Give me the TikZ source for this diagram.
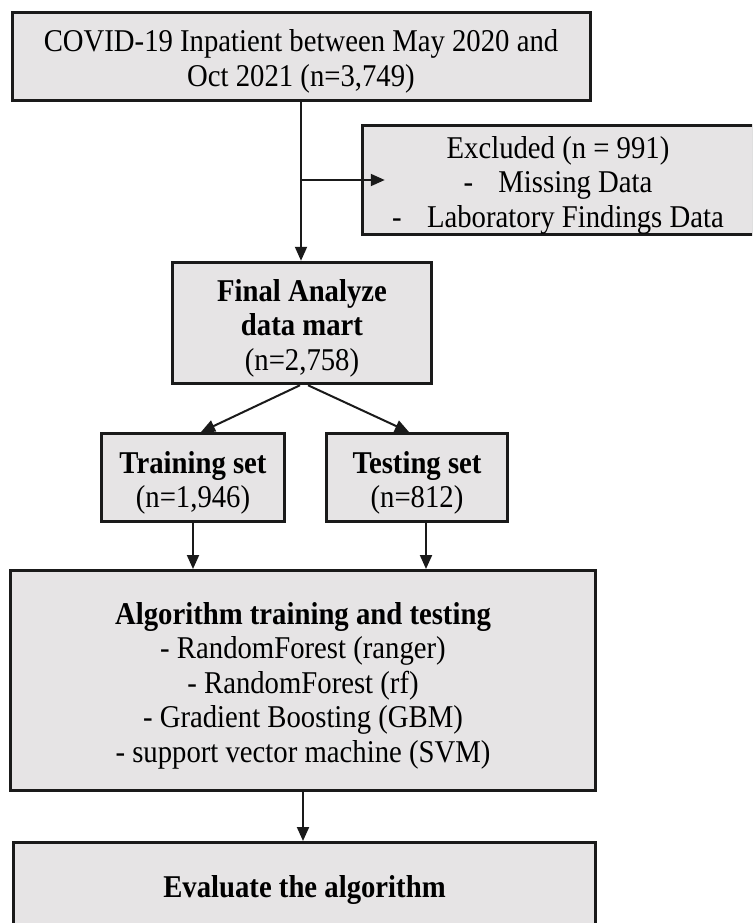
\documentclass[tikz,border=0pt]{standalone}
\usepackage{fontspec}
\setmainfont{Liberation Serif}[FakeStretch=0.906]
\usetikzlibrary{arrows.meta,calc}
\definecolor{boxfill}{RGB}{230,228,229}
\definecolor{ink}{RGB}{26,26,26}
% fixed first-line height and last-line depth so every box sets its lines alike
\newcommand{\fls}{\rule{0pt}{33pt}}
\newcommand{\lls}{\rule[-7.5pt]{0pt}{0pt}}
\begin{document}
\begin{tikzpicture}[x=1pt,y=-1pt,
  box/.style={draw=ink,fill=boxfill,line width=3pt,inner sep=0pt,align=center,
    font=\fontsize{31.7}{34.5}\selectfont},
  link/.style={draw=ink,line width=2pt,-{Triangle[length=14pt,width=12pt]}}]
\useasboundingbox (0,0) rectangle (752,923);
\clip (0,0) rectangle (752,923);

% boxes
\node[box,minimum width=578pt,minimum height=88pt] (src) at (301,56.5)
  {\fls COVID-19 Inpatient between May 2020 and\\Oct 2021 (n=3,749)\lls};
\node[box,minimum width=391.5pt,minimum height=103pt] (exc) at (558,180)
  {\fls Excluded (n = 991)\\-\hspace{0.8em}Missing Data\\-\hspace{0.8em}Laboratory Findings Data\lls};
\node[box,minimum width=258.5pt,minimum height=121.5pt] (fin) at (302,323)
  {\fls\textbf{Final Analyze}\\\textbf{data mart}\\(n=2,758)\lls};
\node[box,minimum width=183pt,minimum height=88pt] (trn) at (193,477.5)
  {\fls\textbf{Training set}\\(n=1,946)\lls};
\node[box,minimum width=181pt,minimum height=88pt] (tst) at (417,477.5)
  {\fls\textbf{Testing set}\\(n=812)\lls};
\node[box,minimum width=585.5pt,minimum height=220pt] (alg) at (303,680.5)
  {\fls\textbf{Algorithm training and testing}\\- RandomForest (ranger)\\- RandomForest (rf)\\- Gradient Boosting (GBM)\\- support vector machine (SVM)\lls};
\node[box,minimum width=582.5pt,minimum height=85pt] (evl) at (304.5,885)
  {\rule{0pt}{32pt}\textbf{Evaluate the algorithm}\lls};

% connectors
\draw[link] (src.south) -- (src.south |- fin.north);
\coordinate (split) at (src.south |- exc.west);
\coordinate (excin) at ($(exc.west)+(24,0)$);
\draw[link] (split) -- (excin);
\draw[link] ($(fin.south)+(-2,0)$) -- ($(trn.north)+(8,0)$);
\draw[link] ($(fin.south)+(6,0)$) -- ($(tst.north)+(-8,0)$);
\draw[link] (trn.south) -- (trn.south |- alg.north);
\coordinate (tstout) at ($(tst.south)+(9,0)$);
\draw[link] (tstout) -- (tstout |- alg.north);
\draw[link] (alg.south) -- (alg.south |- evl.north);
\end{tikzpicture}
\end{document}
